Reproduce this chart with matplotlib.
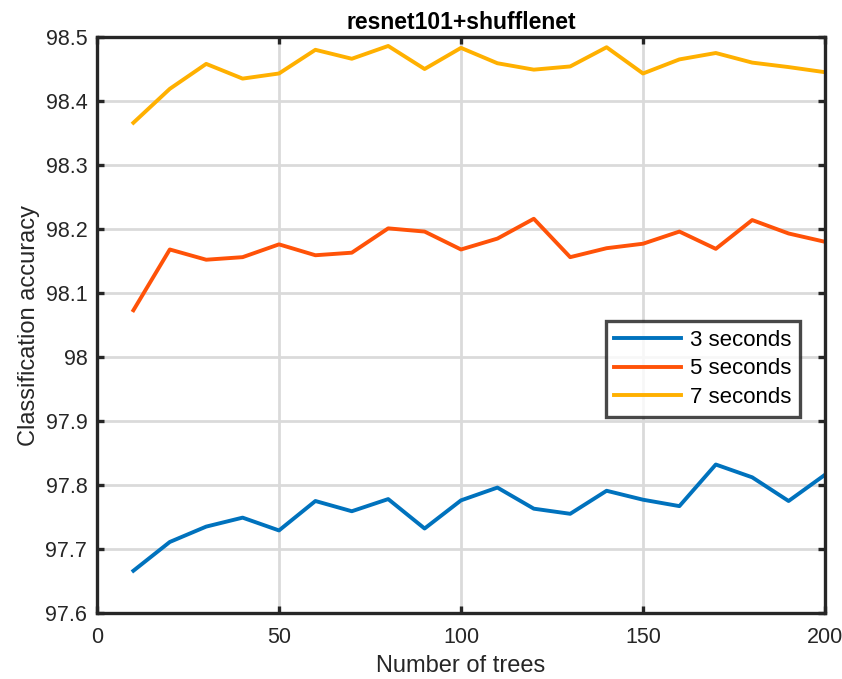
import numpy as np
import matplotlib
matplotlib.use('Agg')
import matplotlib.pyplot as plt
from matplotlib.ticker import FuncFormatter

# data
trees = [10, 20, 30, 40, 50, 60, 70, 80, 90, 100,
         110, 120, 130, 140, 150, 160, 170, 180, 190, 200]
acc_3s = [97.666, 97.711, 97.735, 97.749, 97.729, 97.775, 97.759, 97.778, 97.732, 97.776,
          97.796, 97.763, 97.755, 97.791, 97.777, 97.767, 97.832, 97.812, 97.775, 97.816]
acc_5s = [98.073, 98.168, 98.152, 98.156, 98.176, 98.159, 98.163, 98.201, 98.196, 98.168,
          98.185, 98.216, 98.156, 98.170, 98.177, 98.196, 98.169, 98.214, 98.193, 98.180]
acc_7s = [98.366, 98.419, 98.458, 98.435, 98.443, 98.480, 98.466, 98.486, 98.450, 98.483,
          98.459, 98.449, 98.454, 98.484, 98.443, 98.465, 98.475, 98.460, 98.453, 98.445]
labels = ['3 seconds', '5 seconds', '7 seconds']
colors = ['#0072BD', '#FF5208', '#FFB000']

plt.rcParams['font.family'] = ['Liberation Sans', 'DejaVu Sans']

fig = plt.figure(figsize=(8.42, 6.79), dpi=100)
ax = fig.add_axes([0.1152, 0.0972, 0.8646, 0.8483])

for y, lab, c in zip([acc_3s, acc_5s, acc_7s], labels, colors):
    ax.plot(trees, y, color=c, lw=2.8, label=lab)

ax.set_xlim(0, 200)
ax.set_ylim(97.6, 98.5)
ax.set_xticks([0, 50, 100, 150, 200])
ax.set_yticks(np.round(np.arange(97.6, 98.51, 0.1), 1))
ax.yaxis.set_major_formatter(FuncFormatter(lambda v, p: '%g' % round(v, 1)))

ax.grid(True, color='#dadada', lw=2.0)
ax.set_axisbelow(True)
for s in ax.spines.values():
    s.set_linewidth(2.4)
    s.set_color('#262626')
ax.tick_params(direction='in', length=5, width=2.4, top=True, right=True,
               labelsize=15.5, colors='#262626', pad=7)
ax.tick_params(axis='x', pad=10)

ax.set_xlabel('Number of trees', fontsize=17, color='#262626', labelpad=5)
ax.set_ylabel('Classification accuracy', fontsize=17, color='#262626', labelpad=4)
ax.set_title('resnet101+shufflenet', fontsize=16.5, fontweight='bold', pad=6)

leg = ax.legend(loc='lower right', bbox_to_anchor=(0.966, 0.34), fontsize=16,
                frameon=True, fancybox=False, edgecolor='#1a1a1a',
                handlelength=3.0, handletextpad=0.4, borderpad=0.4,
                labelspacing=0.35, borderaxespad=0)
leg.get_frame().set_linewidth(2.4)

plt.savefig('out.png', dpi=100)
